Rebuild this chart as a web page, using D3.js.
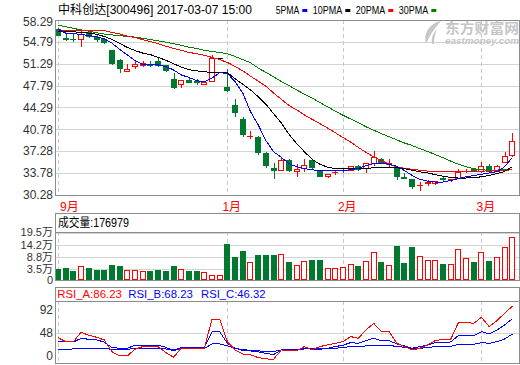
<!DOCTYPE html>
<html>
<head>
<meta charset="utf-8">
<title>中科创达</title>
<script src="https://cdn.jsdelivr.net/npm/d3@7"></script>
<style>
  body { margin: 0; background: #fff; overflow: hidden; }
  svg { display: block; }
  text { font-family: "Liberation Sans", Arial, "Noto Sans CJK SC", sans-serif; }
</style>
</head>
<body>
<div id="chart"></div>
<script>
// ---- data ----
var opens  = [56.86,55.43,55.32,55.32,56.38,55.53,55.21,53.41,51.93,50.12,50.97,51.13,51.13,51.71,51.08,48.9,48.0,48.69,48.58,48.06,
              48.54,52.24,47.58,44.71,42.43,39.65,39.52,36.97,34.64,34.21,35.9,34.06,34.54,35.86,34.06,33.27,33.9,34.3,34.32,34.87,
              34.54,35.4,36.0,35.3,34.7,33.12,32.8,31.85,32.2,32.15,32.97,32.78,33.0,34.13,34.42,34.06,34.87,34.16,35.5,36.65];
var highs  = [56.95,56.06,56.06,56.49,56.59,55.85,55.35,53.5,52.09,51.29,51.71,51.71,51.71,52.4,51.1,49.86,48.64,48.95,48.8,48.4,
              52.67,52.24,50.39,45.62,42.7,40.47,39.78,37.13,35.38,36.2,36.0,35.2,36.0,35.9,34.1,33.7,34.3,34.6,35.0,35.1,
              35.4,37.3,36.2,36.0,34.96,33.8,32.84,32.3,32.7,32.6,33.25,32.9,34.4,34.5,34.5,35.5,35.2,35.1,37.2,40.15];
var lows   = [55.9,55.15,55.0,54.15,55.6,54.9,54.65,51.2,50.02,50.1,50.55,50.85,50.85,51.0,50.1,47.47,47.63,48.3,48.0,48.0,
              48.54,52.24,46.95,42.97,39.68,39.41,36.87,34.75,33.05,34.21,34.1,33.3,34.2,34.4,33.3,33.2,33.6,34.0,34.3,34.3,
              33.9,35.1,35.4,34.9,32.8,33.05,31.4,31.14,31.9,32.1,32.7,32.6,33.0,34.0,34.1,34.0,34.1,34.1,35.5,36.6];
var closes = [55.96,55.21,55.24,56.06,55.69,55.21,54.79,51.34,50.65,50.49,51.18,51.34,51.05,51.08,50.28,47.58,48.64,48.43,48.32,48.37,
              52.24,52.24,47.1,43.5,40.05,39.7,37.13,35.12,34.21,35.91,34.3,34.42,35.11,34.7,33.35,33.63,33.98,34.35,34.87,34.38,
              35.33,36.29,35.5,35.4,33.35,33.05,31.77,31.9,32.3,32.57,32.9,32.82,34.0,34.18,34.16,34.96,34.16,35.0,36.45,38.99];

var ma5  = [56.8,56.2,56.1,56.0,55.8,55.6,55.3,54.6,53.6,52.7,51.8,51.15,51.1,51.1,50.85,50.3,49.5,49.1,48.6,48.37,
            49.0,49.85,49.75,48.4,46.6,43.6,41.5,39.0,37.2,36.3,35.3,34.8,34.5,34.3,34.2,34.15,34.15,34.2,34.3,34.55,
            35.0,35.3,35.35,35.2,34.9,34.2,33.4,32.8,32.5,32.35,32.35,32.6,32.9,33.2,33.4,33.6,33.8,34.0,34.8,36.3];
var ma10 = [56.5,56.45,56.4,56.3,56.2,56.0,55.65,55.2,54.55,53.9,53.4,53.0,52.75,52.3,51.85,51.3,50.75,50.35,50.15,50.0,
            49.9,49.9,49.85,48.9,48.0,47.1,46.0,44.8,43.3,41.8,40.0,38.5,37.2,36.0,35.2,34.75,34.5,34.45,34.45,34.45,
            34.5,34.65,34.7,34.7,34.65,34.5,34.25,34.0,33.8,33.55,33.3,33.1,33.0,33.0,33.05,33.2,33.4,33.7,34.05,34.8];
var ma20 = [56.65,56.65,56.65,56.65,56.65,56.65,56.6,56.3,56.05,55.7,55.5,55.15,54.85,54.5,54.1,53.75,53.45,53.1,52.9,52.65,
            52.3,51.95,51.5,50.85,50.15,49.3,48.5,47.7,46.6,45.6,44.6,43.9,43.1,42.4,41.7,41.0,40.25,39.5,38.75,37.9,
            37.1,36.4,35.8,35.2,34.8,34.55,34.4,34.25,34.1,34.0,34.0,34.0,34.0,34.0,34.05,34.1,34.15,34.2,34.25,34.3];
var ma30 = [57.45,57.2,56.95,56.7,56.5,56.25,56.05,55.9,55.8,55.65,55.55,55.35,55.15,54.95,54.75,54.5,54.25,53.95,53.75,53.45,
            53.25,53.1,52.9,52.45,51.95,51.45,50.6,49.9,49.2,48.45,47.8,47.1,46.4,45.8,45.1,44.4,43.7,43.05,42.45,41.85,
            41.2,40.65,40.1,39.6,39.1,38.6,38.2,37.7,37.25,36.75,36.25,35.7,35.2,34.8,34.5,34.3,34.25,34.27,34.35,34.43];

// volume in 万 (10k)
var volumes = [3.63,4.07,2.76,4.8,4.07,3.33,3.33,5.37,4.93,3.2,3.2,2.76,2.76,3.2,2.76,4.93,3.5,2.76,2.76,2.33,
               1.02,1.02,14.5,8.85,11.46,6.67,9.85,9.85,9.85,10.15,6.67,5.37,7.11,7.54,7.54,3.93,3.93,4.37,5.8,4.93,
               7.11,11.02,6.67,5.37,13.76,6.24,13.33,9.28,7.54,7.54,5.93,5.8,12.33,8.41,6.67,11.02,7.11,8.85,13.2,17.7];

var rsiA = [41.4,35.6,35.6,49.0,44.8,41.9,38.1,21.4,15.2,15.2,24.8,28.6,28.6,28.6,20.0,13.3,26.2,26.2,26.2,26.2,
            67.6,67.6,35.6,23.8,18.1,16.7,12.9,11.0,10.5,23.8,22.9,22.4,28.6,23.8,28.6,30.9,33.3,35.6,42.9,40.4,
            52.3,61.9,49.9,49.9,33.3,28.6,23.8,26.2,30.9,37.1,39.0,39.0,62.9,62.9,61.9,70.4,57.1,65.7,76.1,86.23];
var rsiB = [36.6,35.2,35.2,40.4,39.0,38.1,35.2,27.1,26.2,26.2,30.5,30.5,30.5,30.5,27.6,22.4,27.6,27.6,27.6,27.6,
            49.9,49.9,33.3,26.2,22.9,22.4,21.0,19.0,17.1,23.8,23.8,23.8,26.2,25.2,24.8,26.2,28.6,30.5,34.2,33.3,
            37.1,40.4,37.1,37.1,32.4,29.5,26.2,28.6,30.5,34.2,34.7,35.2,44.3,44.3,44.3,49.9,46.6,52.3,59.5,68.23];
var rsiC = [24.8,24.8,25.2,26.2,26.2,26.2,25.7,24.8,24.8,24.8,25.7,25.7,25.7,25.7,25.2,23.8,25.7,25.7,25.7,25.7,
            32.4,32.4,29.5,26.2,24.3,23.3,22.4,21.9,21.4,23.8,23.8,23.8,25.2,25.2,25.2,26.2,26.2,27.1,28.6,28.6,
            29.5,30.5,30.5,30.5,28.6,27.6,26.2,26.2,27.1,28.6,28.6,29.0,31.9,31.9,31.9,34.2,33.3,35.6,39.5,46.32];

var priceTicks = ["58.29","54.79","51.29","47.79","44.29","40.78","37.28","33.78","30.28"];
var volTicks = [19.5, 14.2, 8.8, 3.5];
var volTickLabels = ["19.5万","14.2万","8.8万","3.5万"];
var rsiTicks = [92, 48, 0];
var monthIdx = [0, 22, 37, 55];
var monthNames = ["9月","1月","2月","3月"];
var title = "中科创达[300496] 2017-03-07 15:00";
var volTitle = "成交量:176979";
var rsiTitles = ["RSI_A:86.23", "RSI_B:68.23", "RSI_C:46.32"];
var maNames = ["5PMA", "10PMA", "20PMA", "30PMA"];

// ---- layout ----
var W = 520, H = 365;
var L = 55, R = 519;
var UP = "#ff0000", DOWN = "#00782f", GRID = "#d4d4d4", BORDER = "#8c8c8c";
var maColors = ["#0000ff", "#000000", "#ff0000", "#008000"];

var svg = d3.select("#chart").append("svg").attr("width", W).attr("height", H);
var n = closes.length;
var x = d3.scalePoint().domain(d3.range(n)).range([58, 512.3]);
var yP = d3.scaleLinear().domain([30.28, 58.29]).range([195, 20]);
var yV = d3.scaleLinear().domain([-1.15, 19.5]).range([280, 232.5]);
var yR = d3.scaleLinear().domain([4.71, 94.14]).range([363.3, 300.7]);

function cx(i) { return Math.round(x(i)); }
function hline(g, y, color) {
  g.append("line").attr("x1", L).attr("x2", R + 1).attr("y1", Math.round(y) + 0.5).attr("y2", Math.round(y) + 0.5)
    .attr("stroke", color).attr("stroke-width", 1);
}

var grid = svg.append("g").attr("shape-rendering", "crispEdges");
// price grid
priceTicks.forEach(function (t) { hline(grid, yP(+t), GRID); });
volTicks.forEach(function (t) { hline(grid, yV(t), GRID); });
hline(grid, yR(48), GRID);

// month dashed lines
var panels = [[20, 195], [232, 280], [301, 363]];
monthIdx.forEach(function (mi) {
  panels.forEach(function (p) {
    grid.append("line").attr("x1", cx(mi) + 0.5).attr("x2", cx(mi) + 0.5).attr("y1", p[0]).attr("y2", p[1])
      .attr("stroke", "#c8c8c8").attr("stroke-dasharray", "4,3");
  });
});

// ---- candles ----
var cg = svg.append("g").attr("shape-rendering", "crispEdges");
d3.range(n).forEach(function (i) {
  var o = opens[i], c = closes[i], h = highs[i], l = lows[i];
  var col = c > o ? UP : (c < o ? DOWN : "#000000");
  var c0 = cx(i), left = c0 - 3;
  var top = Math.round(yP(Math.max(o, c))), bot = Math.round(yP(Math.min(o, c)));
  var yh = Math.round(yP(h)), yl = Math.round(yP(l));
  if (yh < top) cg.append("line").attr("x1", c0 + 0.5).attr("x2", c0 + 0.5).attr("y1", yh).attr("y2", top).attr("stroke", col);
  if (yl > bot) cg.append("line").attr("x1", c0 + 0.5).attr("x2", c0 + 0.5).attr("y1", bot).attr("y2", yl + 1).attr("stroke", col);
  if (bot - top < 1) {
    cg.append("line").attr("x1", left).attr("x2", left + 6).attr("y1", top + 0.5).attr("y2", top + 0.5).attr("stroke", col);
  } else {
    cg.append("rect").attr("x", left + 0.5).attr("y", top + 0.5).attr("width", 5).attr("height", bot - top)
      .attr("fill", c > o ? "#ffffff" : col).attr("stroke", col);
  }
});

// ---- moving averages ----
var line = d3.line().x(function (d, i) { return x(i); }).y(function (d) { return yP(d); });
[ma30, ma20, ma10, ma5].forEach(function (s, k) {
  svg.append("path").attr("d", line(s)).attr("fill", "none").attr("shape-rendering", "crispEdges")
    .attr("stroke", maColors[3 - k]).attr("stroke-width", 1);
});

// ---- volume ----
var vg = svg.append("g").attr("shape-rendering", "crispEdges");
volumes.forEach(function (v, i) {
  var left = cx(i) - 3, top = Math.round(yV(v));
  if (closes[i] >= opens[i]) {
    vg.append("rect").attr("x", left + 0.5).attr("y", top + 0.5).attr("width", 5).attr("height", 279 - top)
      .attr("fill", "#fff").attr("stroke", UP);
  } else {
    vg.append("rect").attr("x", left).attr("y", top).attr("width", 6).attr("height", 280 - top).attr("fill", DOWN);
  }
});

// ---- RSI ----
var rline = d3.line().x(function (d, i) { return x(i); }).y(function (d) { return yR(d); });
[[rsiC, "#0000ff"], [rsiB, "#0000ff"], [rsiA, "#ff0000"]].forEach(function (p) {
  svg.append("path").attr("d", rline(p[0])).attr("fill", "none").attr("shape-rendering", "crispEdges")
    .attr("stroke", p[1]).attr("stroke-width", 1);
});

// ---- borders ----
var bg = svg.append("g").attr("shape-rendering", "crispEdges").attr("fill", "none").attr("stroke", BORDER);
[[20, 195], [213, 232], [232, 280], [287, 301], [301, 363]].forEach(function (b) {
  bg.append("rect").attr("x", L + 0.5).attr("y", b[0] + 0.5).attr("width", R - L).attr("height", b[1] - b[0]);
});

// ---- axis labels ----
var lab = svg.append("g").attr("font-size", "12px").attr("fill", "#333").attr("text-anchor", "end");
priceTicks.forEach(function (t) {
  lab.append("text").attr("x", 53).attr("y", Math.max(yP(+t), 22)).attr("dy", "0.35em").text(t);
});
volTicks.forEach(function (t, k) {
  lab.append("text").attr("x", 53).attr("y", yV(t)).attr("dy", "0.35em").attr("font-size", "11px").text(volTickLabels[k]);
});
lab.append("text").attr("x", 53).attr("y", yV.range()[0]).attr("dy", "0.35em").attr("font-size", "11px").text("0");
rsiTicks.forEach(function (t) {
  var yy = Math.min(Math.max(yR(t), 309.5), 355.3);
  lab.append("text").attr("x", 53).attr("y", yy).attr("dy", "0.35em").text(t);
});

// month labels
monthIdx.forEach(function (mi, k) {
  svg.append("text").attr("x", Math.max(x(mi) - 5, 60)).attr("y", 207).attr("dy", "0.35em")
    .attr("font-size", "12px").attr("fill", "#ff0000").text(monthNames[k]);
});

// ---- titles ----
svg.append("text").attr("x", 58).attr("y", 10).attr("dy", "0.35em").attr("font-size", "12px")
  .attr("font-family", "'Noto Sans CJK SC', sans-serif")
  .attr("textLength", 194).attr("lengthAdjust", "spacingAndGlyphs").attr("fill", "#000").text(title);

var lx = 275.7;
maNames.forEach(function (nm, k) {
  var w = nm.length * 5.9;
  svg.append("text").attr("x", lx).attr("y", 10).attr("dy", "0.35em").attr("font-size", "11px")
    .attr("font-family", "'Liberation Mono', monospace")
    .attr("textLength", w).attr("lengthAdjust", "spacingAndGlyphs").text(nm);
  svg.append("rect").attr("x", lx + w + 3).attr("y", 9).attr("width", 5).attr("height", 3).attr("fill", maColors[k]);
  lx += w + 3 + 5 + 5.5;
});

svg.append("text").attr("x", 58).attr("y", 223).attr("dy", "0.35em").attr("font-size", "12px")
  .attr("font-family", "'Noto Sans CJK SC', sans-serif")
  .attr("textLength", 71).attr("lengthAdjust", "spacingAndGlyphs").attr("fill", "#000").text(volTitle);

var rsiX = [57.3, 128.3, 201], rsiCol = ["#ff0000", "#0000ff", "#0000ff"];
rsiTitles.forEach(function (t, k) {
  svg.append("text").attr("x", rsiX[k]).attr("y", 294).attr("dy", "0.35em").attr("font-size", "11px")
    .attr("font-family", "'Liberation Mono', monospace")
    .attr("textLength", 64.5).attr("lengthAdjust", "spacingAndGlyphs").attr("fill", rsiCol[k]).text(t);
});

// ---- watermark ----
var wm = svg.append("g").attr("fill", "#c6c6c6");
wm.append("path").attr("d", "M441,21 C431,23 423,32 426,44 C429,36 434,29 441,21 Z");
wm.append("path").attr("d", "M437,29 C433,33 431,38 432,44 L434,44 C434,38 435,34 437,29 Z");
wm.append("text").attr("x", 445).attr("y", 28.5).attr("dy", "0.35em").attr("font-size", "14px")
  .attr("font-weight", "bold").attr("font-family", "'Noto Sans CJK SC', sans-serif")
  .attr("textLength", 74).attr("lengthAdjust", "spacingAndGlyphs").text("东方财富网");
wm.append("text").attr("x", 445).attr("y", 40.5).attr("dy", "0.35em").attr("font-size", "9px")
  .attr("font-weight", "bold").attr("font-style", "italic")
  .attr("textLength", 74).attr("lengthAdjust", "spacingAndGlyphs").text("eastmoney.com");
</script>
</body>
</html>
